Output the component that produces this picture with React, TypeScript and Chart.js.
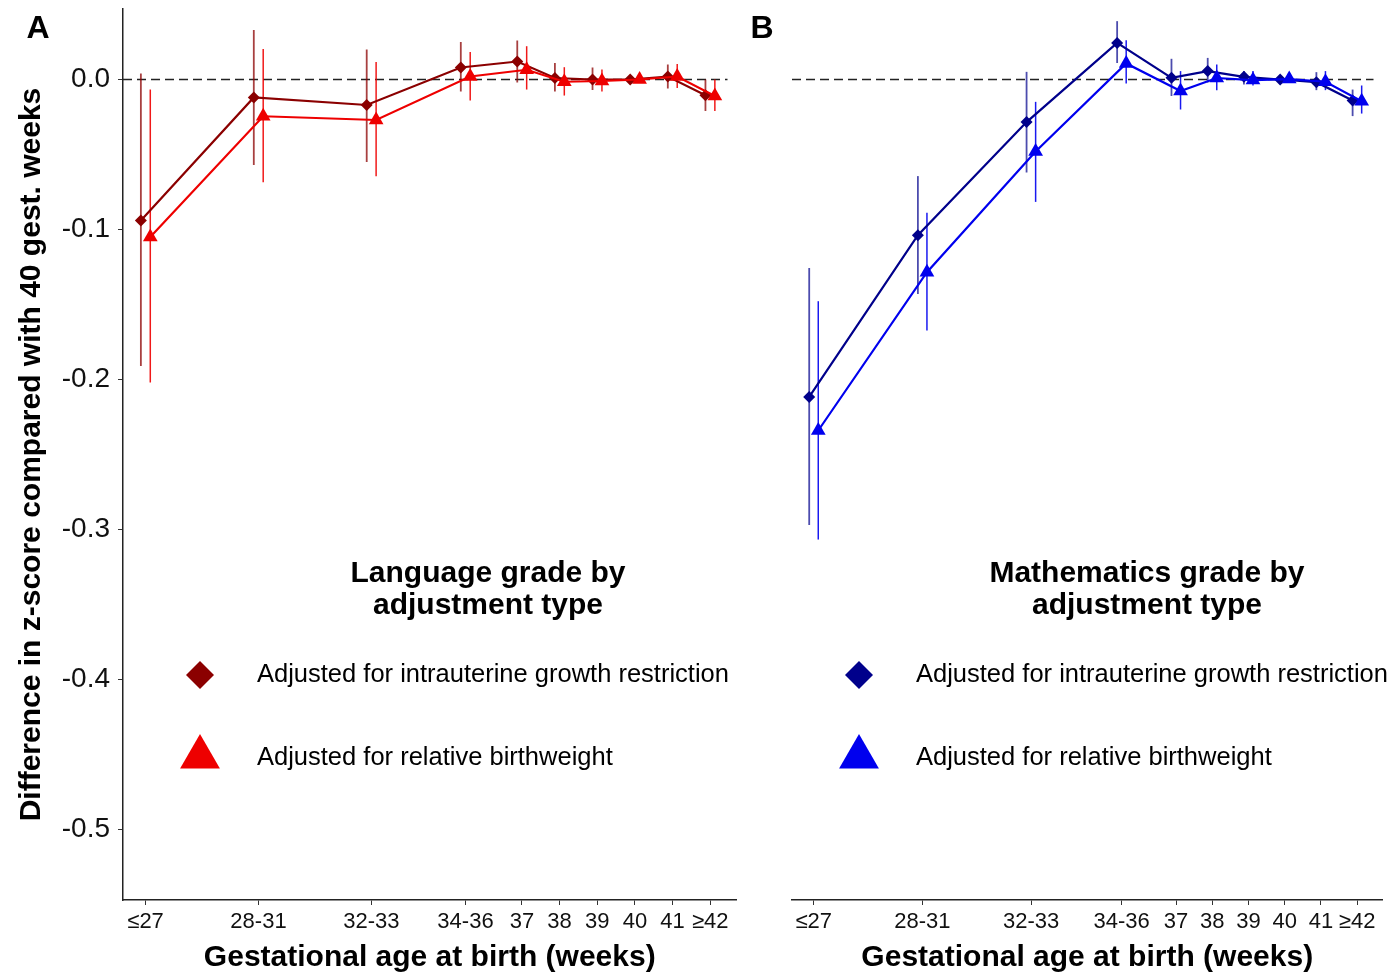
import React, { useEffect, useRef } from 'react';
import { Chart, registerables } from 'chart.js';

Chart.register(...registerables);

// ---- data ----
const CATEGORIES = ['≤27', '28-31', '32-33', '34-36', '37', '38', '39', '40', '41', '≥42'];
const X_POSITIONS = [27, 30, 33, 35.5, 37, 38, 39, 40, 41, 42];
const Y_TICKS = [-0.5, -0.4, -0.3, -0.2, -0.1, 0];

// Language grade
const LANG_IUGR = [-0.094, -0.012, -0.017, 0.008, 0.012, 0.001, 0.0, 0.0, 0.002, -0.0105];
const LANG_IUGR_LO = [-0.191, -0.057, -0.055, -0.008, -0.002, -0.008, -0.007, null, -0.006, -0.021];
const LANG_IUGR_HI = [0.004, 0.033, 0.020, 0.025, 0.026, 0.011, 0.008, null, 0.010, 0.0];
const LANG_RBW = [-0.105, -0.0245, -0.027, 0.002, 0.0065, -0.0015, -0.001, 0.0, 0.002, -0.011];
const LANG_RBW_LO = [-0.202, -0.0685, -0.0645, -0.014, -0.0067, -0.0107, -0.008, null, -0.0056, -0.021];
const LANG_RBW_HI = [-0.0067, 0.0204, 0.0116, 0.0184, 0.0222, 0.0082, 0.0067, null, 0.0104, 0.0];

// Mathematics grade
const MATH_IUGR = [-0.2116, -0.1038, -0.0284, 0.0244, 0.0011, 0.0056, 0.0018, 0.0, -0.0018, -0.014];
const MATH_IUGR_LO = [-0.297, -0.143, -0.062, 0.011, -0.011, -0.002, -0.0033, null, -0.0071, -0.0244];
const MATH_IUGR_HI = [-0.1256, -0.0644, 0.0051, 0.0389, 0.0138, 0.0144, 0.0056, null, 0.0049, -0.0067];
const MATH_RBW = [-0.234, -0.1285, -0.048, 0.0107, -0.0077, 0.001, -0.0004, 0.0003, -0.0015, -0.0145];
const MATH_RBW_LO = [-0.3067, -0.1673, -0.0816, -0.0027, -0.02, -0.0071, -0.004, null, -0.0071, -0.0227];
const MATH_RBW_HI = [-0.1478, -0.0889, -0.0149, 0.0262, 0.0056, 0.01, 0.0056, null, 0.0056, -0.004];

const LABEL_IUGR = 'Adjusted for intrauterine growth restriction';
const LABEL_RBW = 'Adjusted for relative birthweight';

const FONT = '"Liberation Sans", Arial, Helvetica, sans-serif';
const DODGE = 0.125;
const X_MIN = 26.4;
const X_MAX = 42.7;
const Y_MIN = -0.547;
const Y_MAX = 0.047;

const COLORS = {
  langIugr: '#8B0000',
  langRbw: '#EE0000',
  mathIugr: '#00008B',
  mathRbw: '#0000EE',
};

// ---- plugins ----
const errorBarPlugin = {
  id: 'errorBars',
  beforeDatasetsDraw(chart: any) {
    const { ctx, chartArea } = chart;
    const ys = chart.scales.y;
    // dashed zero line
    const y0 = ys.getPixelForValue(0);
    ctx.save();
    ctx.strokeStyle = '#222';
    ctx.lineWidth = 1.5;
    ctx.setLineDash([9, 5]);
    ctx.beginPath();
    ctx.moveTo(chartArea.left, y0);
    ctx.lineTo(chartArea.right - 9, y0);
    ctx.stroke();
    ctx.setLineDash([]);
    chart.data.datasets.forEach((ds: any, di: number) => {
      const meta = chart.getDatasetMeta(di);
      ctx.strokeStyle = ds.errorColor;
      ctx.lineWidth = ds.errorWidth;
      meta.data.forEach((pt: any, i: number) => {
        const lo = ds.errLo[i];
        const hi = ds.errHi[i];
        if (lo == null || hi == null) return;
        ctx.beginPath();
        ctx.moveTo(pt.x, ys.getPixelForValue(lo));
        ctx.lineTo(pt.x, ys.getPixelForValue(hi));
        ctx.stroke();
      });
    });
    ctx.restore();
  },
};

function drawDiamond(ctx: any, x: number, y: number, r: number) {
  ctx.beginPath();
  ctx.moveTo(x, y - r);
  ctx.lineTo(x + r, y);
  ctx.lineTo(x, y + r);
  ctx.lineTo(x - r, y);
  ctx.closePath();
  ctx.fill();
}

function drawTriangle(ctx: any, x: number, y: number, r: number) {
  ctx.beginPath();
  ctx.moveTo(x, y - r);
  ctx.lineTo(x + r * 0.866, y + r / 2);
  ctx.lineTo(x - r * 0.866, y + r / 2);
  ctx.closePath();
  ctx.fill();
}

const decorPlugin = {
  id: 'panelDecor',
  afterDraw(chart: any) {
    const o = chart.options.plugins.panelDecor;
    if (!o) return;
    const ctx = chart.ctx;
    ctx.save();
    ctx.fillStyle = '#000';
    ctx.textBaseline = 'middle';
    // panel letter
    ctx.font = `bold 32px ${FONT}`;
    ctx.textAlign = 'center';
    ctx.fillText(o.letter, o.letterX, 29);
    // legend title
    ctx.font = `bold 30px ${FONT}`;
    o.titleLines.forEach((t: string, i: number) => {
      ctx.fillText(t, o.titleX, 574 + i * 32);
    });
    // legend items
    ctx.font = `25.5px ${FONT}`;
    ctx.textAlign = 'left';
    o.items.forEach((it: any) => {
      ctx.fillStyle = it.color;
      if (it.shape === 'diamond') drawDiamond(ctx, o.markerX, it.y, 14);
      else drawTriangle(ctx, o.markerX, it.y - 1, 23);
      ctx.fillStyle = '#000';
      ctx.fillText(it.label, o.textX, it.y);
    });
    ctx.restore();
  },
};

function makeDatasets(iugr: number[], iugrLo: any[], iugrHi: any[], rbw: number[], rbwLo: any[], rbwHi: any[], cI: string, cR: string, errI: string, errR: string) {
  return [
    {
      label: LABEL_RBW,
      data: rbw.map((v, i) => ({ x: X_POSITIONS[i] + DODGE, y: v })),
      errLo: rbwLo,
      errHi: rbwHi,
      errorColor: errR,
      errorWidth: 1.5,
      borderColor: cR,
      backgroundColor: cR,
      borderWidth: 2.2,
      pointStyle: 'triangle',
      pointRadius: 8.5,
      pointBorderWidth: 0,
      pointBackgroundColor: cR,
      tension: 0,
    },
    {
      label: LABEL_IUGR,
      data: iugr.map((v, i) => ({ x: X_POSITIONS[i] - DODGE, y: v })),
      errLo: iugrLo,
      errHi: iugrHi,
      errorColor: errI,
      errorWidth: 1.8,
      borderColor: cI,
      backgroundColor: cI,
      borderWidth: 2.2,
      pointStyle: 'rectRot',
      pointRadius: 6,
      pointBorderWidth: 0,
      pointBackgroundColor: cI,
      tension: 0,
    },
  ];
}

function xScale() {
  return {
    type: 'linear',
    min: X_MIN,
    max: X_MAX,
    afterBuildTicks: (s: any) => {
      s.ticks = X_POSITIONS.map((v) => ({ value: v }));
    },
    afterFit: (s: any) => {
      s.height = 76;
      s.paddingLeft = 0;
      s.paddingRight = 0;
    },
    ticks: {
      autoSkip: false,
      maxRotation: 0,
      minRotation: 0,
      callback: (_v: any, i: number) => CATEGORIES[i],
      font: { family: FONT, size: 22 },
      color: '#111',
      padding: 4,
    },
    grid: { display: true, drawOnChartArea: false, drawTicks: true, tickLength: 5, color: '#333', lineWidth: 1 },
    border: { display: true, color: '#222', width: 1.5 },
    title: {
      display: true,
      text: 'Gestational age at birth (weeks)',
      font: { family: FONT, size: 30, weight: 'bold' },
      color: '#000',
      padding: { top: 0, bottom: 0 },
    },
  };
}

function buildLeft(canvas: HTMLCanvasElement) {
  return new Chart(canvas, {
    type: 'line',
    data: {
      datasets: makeDatasets(LANG_IUGR, LANG_IUGR_LO, LANG_IUGR_HI, LANG_RBW, LANG_RBW_LO, LANG_RBW_HI,
        COLORS.langIugr, COLORS.langRbw, 'rgba(139,0,0,0.75)', 'rgba(238,0,0,0.9)') as any,
    },
    options: {
      responsive: false,
      animation: false,
      devicePixelRatio: 1,
      layout: { padding: { left: 0, top: 9, right: 5, bottom: 0 } },
      plugins: {
        legend: { display: false },
        tooltip: { enabled: false },
        panelDecor: {
          letter: 'A',
          letterX: 38,
          titleLines: ['Language grade by', 'adjustment type'],
          titleX: 488,
          markerX: 200,
          textX: 257,
          items: [
            { shape: 'diamond', color: COLORS.langIugr, label: LABEL_IUGR, y: 675 },
            { shape: 'triangle', color: COLORS.langRbw, label: LABEL_RBW, y: 758 },
          ],
        },
      } as any,
      scales: {
        x: xScale() as any,
        y: {
          type: 'linear',
          min: Y_MIN,
          max: Y_MAX,
          afterBuildTicks: (s: any) => {
            s.ticks = Y_TICKS.map((v) => ({ value: v }));
          },
          afterFit: (s: any) => {
            s.width = 123;
            s.paddingTop = 0;
            s.paddingBottom = 0;
          },
          ticks: {
            callback: (v: any) => Number(v).toFixed(1),
            font: { family: FONT, size: 28 },
            color: '#111',
            padding: 8,
          },
          grid: { display: true, drawOnChartArea: false, drawTicks: true, tickLength: 5, color: '#333', lineWidth: 1 },
          border: { display: true, color: '#222', width: 1.5 },
          title: {
            display: true,
            text: 'Difference in z-score compared with 40 gest. weeks',
            font: { family: FONT, size: 30, weight: 'bold' },
            color: '#000',
            padding: { top: 14, bottom: 0 },
          },
        } as any,
      },
    },
    plugins: [errorBarPlugin, decorPlugin],
  } as any);
}

function buildRight(canvas: HTMLCanvasElement) {
  return new Chart(canvas, {
    type: 'line',
    data: {
      datasets: makeDatasets(MATH_IUGR, MATH_IUGR_LO, MATH_IUGR_HI, MATH_RBW, MATH_RBW_LO, MATH_RBW_HI,
        COLORS.mathIugr, COLORS.mathRbw, 'rgba(0,0,139,0.7)', 'rgba(0,0,238,0.9)') as any,
    },
    options: {
      responsive: false,
      animation: false,
      devicePixelRatio: 1,
      layout: { padding: { left: 47, top: 9, right: 0, bottom: 0 } },
      plugins: {
        legend: { display: false },
        tooltip: { enabled: false },
        panelDecor: {
          letter: 'B',
          letterX: 17,
          titleLines: ['Mathematics grade by', 'adjustment type'],
          titleX: 402,
          markerX: 114,
          textX: 171,
          items: [
            { shape: 'diamond', color: COLORS.mathIugr, label: LABEL_IUGR, y: 675 },
            { shape: 'triangle', color: COLORS.mathRbw, label: LABEL_RBW, y: 758 },
          ],
        },
      } as any,
      scales: {
        x: xScale() as any,
        y: { type: 'linear', display: false, min: Y_MIN, max: Y_MAX } as any,
      },
    },
    plugins: [errorBarPlugin, decorPlugin],
  } as any);
}

export default function App() {
  const leftRef = useRef<HTMLCanvasElement | null>(null);
  const rightRef = useRef<HTMLCanvasElement | null>(null);

  useEffect(() => {
    const a = buildLeft(leftRef.current as HTMLCanvasElement);
    const b = buildRight(rightRef.current as HTMLCanvasElement);
    return () => {
      a.destroy();
      b.destroy();
    };
  }, []);

  return (
    <div style={{ position: 'fixed', left: 0, top: 0, width: 1391, height: 976, background: '#fff', overflow: 'hidden' }}>
      <canvas ref={leftRef} width={745} height={976} style={{ position: 'absolute', left: 0, top: 0, width: 745, height: 976 }} />
      <canvas ref={rightRef} width={646} height={976} style={{ position: 'absolute', left: 745, top: 0, width: 646, height: 976 }} />
    </div>
  );
}
